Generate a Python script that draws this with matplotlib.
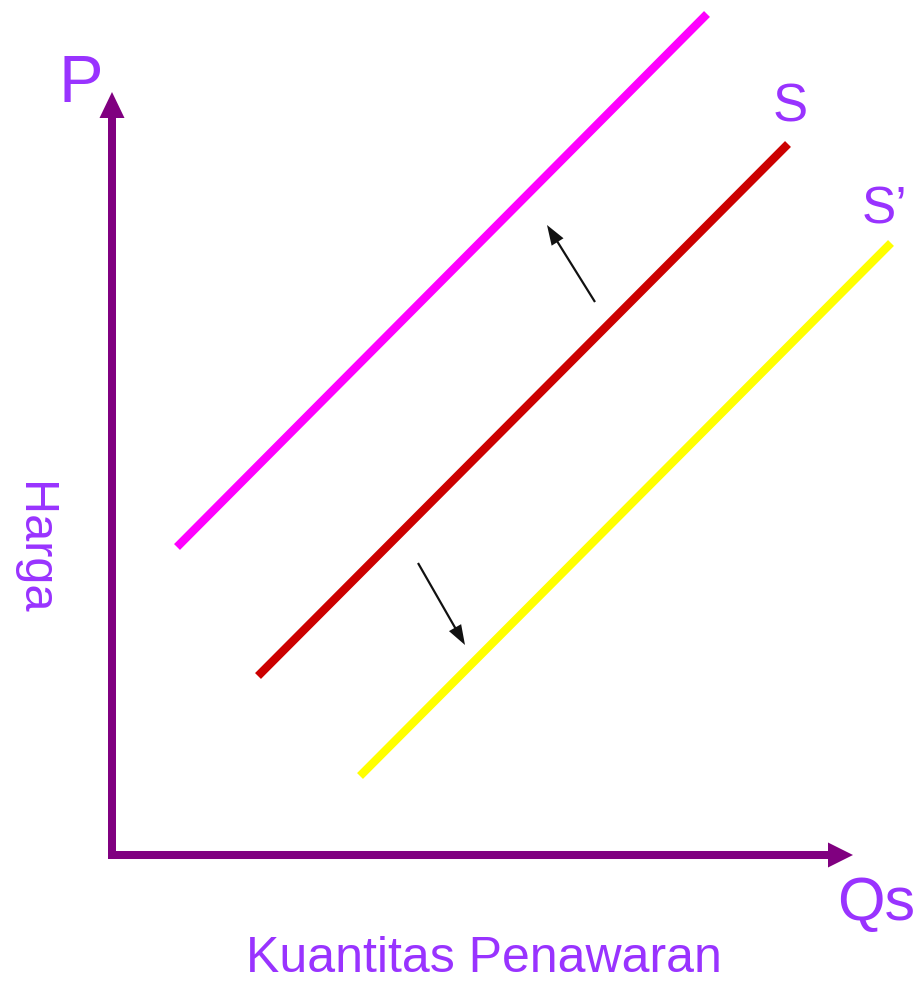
import numpy as np
import matplotlib.pyplot as plt

plt.rcParams['font.family'] = ['Liberation Sans', 'DejaVu Sans']

# supply curves: quantity (x) and price (y) at both ends
q_up = [65, 595]
p_up = [308, 841]
q_s = [146, 676]
p_s = [179, 711]
q_down = [248, 779]
p_down = [79, 612]

# shift arrows: start and end (q, p)
shift_up = [(483, 553), (435, 630)]
shift_down = [(306, 292), (353, 210)]

axis_color = '#800080'
text_color = '#9933FF'

fig = plt.figure(figsize=(9.22, 9.84), dpi=100)
ax = fig.add_axes([0, 0, 1, 1])
ax.set_xlim(-112, 810)
ax.set_ylim(-129, 855)
ax.axis('off')

# axes with arrow heads
ax.arrow(0, -2, 0, 765, width=8, head_width=25, head_length=26,
         length_includes_head=True, color=axis_color, lw=0)
ax.arrow(-4, 0, 745, 0, width=8, head_width=25, head_length=25,
         length_includes_head=True, color=axis_color, lw=0)

ax.plot(q_up, p_up, color='#FF00FF', lw=6, solid_capstyle='butt')
ax.plot(q_s, p_s, color='#CC0000', lw=6, solid_capstyle='butt')
ax.plot(q_down, p_down, color='#FFFF00', lw=6, solid_capstyle='butt')

for (x0, y0), (x1, y1) in [shift_up, shift_down]:
    ax.arrow(x0, y0, x1 - x0, y1 - y0, width=2.2, head_width=14, head_length=20,
             length_includes_head=True, color='#111111', lw=0)

ax.text(-53, 753, 'P', fontsize=48, color=text_color, ha='left', va='baseline')
ax.text(678, 733, 'S', fontsize=38, color=text_color, ha='center', va='baseline')
ax.text(772, 632, 'S\u2019', fontsize=37, color=text_color, ha='center', va='baseline')
ax.text(764, -65, 'Qs', fontsize=44, color=text_color, ha='center', va='baseline')
ax.text(-79, 307, 'Harga', fontsize=35, color=text_color, ha='center', va='center',
        rotation=-90)
ax.text(372, -117, 'Kuantitas Penawaran', fontsize=36, color=text_color,
        ha='center', va='baseline')

plt.savefig('out.png', dpi=100)
